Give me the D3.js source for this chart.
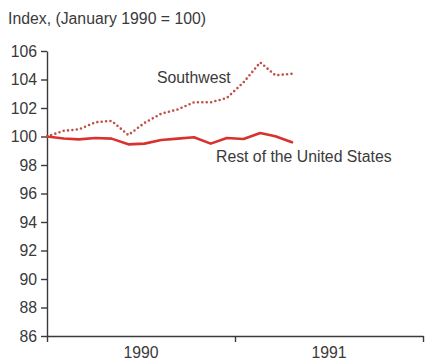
<!DOCTYPE html>
<html>
<head>
<meta charset="utf-8">
<script src="https://cdn.jsdelivr.net/npm/d3@7"></script>
<style>
  html, body { margin: 0; padding: 0; background: #fff; }
  svg { display: block; font-family: "Liberation Sans", Arial, sans-serif; }
</style>
</head>
<body>
<svg id="chart" width="426" height="360"></svg>
<script>
// Monthly employment index, January 1990 = 100
const months = ["1990-01","1990-02","1990-03","1990-04","1990-05","1990-06",
                "1990-07","1990-08","1990-09","1990-10","1990-11","1990-12",
                "1991-01","1991-02","1991-03","1991-04"];
const southwest = [100.0, 100.4, 100.5, 101.0, 101.1, 100.1, 100.95, 101.6,
                   101.9, 102.4, 102.4, 102.7, 103.8, 105.2, 104.3, 104.4];
const restOfUS  = [100.0, 99.86, 99.8, 99.9, 99.85, 99.45, 99.5, 99.75,
                   99.85, 99.95, 99.5, 99.9, 99.82, 100.25, 100.02, 99.6];
const yTicks = [86, 88, 90, 92, 94, 96, 98, 100, 102, 104, 106];
const years = ["1990", "1991"];

const parse = d3.timeParse("%Y-%m");
const dates = months.map(parse);

const svg = d3.select("#chart");
const ink = "#3a3a3a";
const fontSize = 15.8;

// scales
const y = d3.scaleLinear().domain([86, 106]).range([336, 51]);
const x = d3.scaleTime().domain([dates[0], dates[dates.length - 1]]).range([47, 292]);
const xYears = d3.scaleTime()
  .domain([parse("1990-01"), parse("1992-01")])
  .range([47, 423]);

// title
svg.append("text")
  .attr("x", 8).attr("y", 24)
  .attr("fill", ink).attr("font-size", fontSize)
  .text("Index, (January 1990 = 100)");

// y axis
const yAxis = svg.append("g")
  .attr("transform", "translate(47,0)")
  .call(d3.axisLeft(y).tickValues(yTicks).tickSize(6).tickSizeOuter(0).tickPadding(4));
yAxis.select(".domain").attr("stroke", ink).attr("stroke-width", 1.4);
yAxis.selectAll(".tick line").attr("stroke", ink).attr("stroke-width", 1.4);
yAxis.selectAll(".tick text")
  .attr("fill", ink).attr("font-size", fontSize)
  .attr("font-family", "Liberation Sans, Arial, sans-serif");

// x axis: year boundaries with labels centred in each year
const yearStarts = [parse("1990-01"), parse("1991-01"), parse("1992-01")];
const xAxis = svg.append("g")
  .attr("transform", "translate(0,336)")
  .call(d3.axisBottom(xYears).tickValues(yearStarts).tickSize(6).tickSizeOuter(0).tickFormat(""));
xAxis.select(".domain").attr("stroke", ink).attr("stroke-width", 1.4);
xAxis.selectAll(".tick line").attr("stroke", ink).attr("stroke-width", 1.4);

svg.append("g").selectAll("text")
  .data(years)
  .join("text")
  .attr("x", (d, i) => (xYears(yearStarts[i]) + xYears(yearStarts[i + 1])) / 2)
  .attr("y", 358)
  .attr("text-anchor", "middle")
  .attr("fill", ink).attr("font-size", fontSize)
  .text(d => d);

// lines
const line = vals => d3.line()
  .x((d, i) => x(dates[i]))
  .y(d => y(d))
  .curve(d3.curveLinear)(vals);

svg.append("path")
  .attr("d", line(restOfUS))
  .attr("fill", "none")
  .attr("stroke", "#d8322e")
  .attr("stroke-width", 2.6)
  .attr("stroke-linejoin", "round")
  .attr("stroke-linecap", "round");

svg.append("path")
  .attr("d", line(southwest))
  .attr("fill", "none")
  .attr("stroke", "#c0504a")
  .attr("stroke-width", 2.6)
  .attr("stroke-dasharray", "0 4.4")
  .attr("stroke-linecap", "round");

// series labels
svg.append("text")
  .attr("x", 157).attr("y", 83)
  .attr("fill", ink).attr("font-size", fontSize)
  .text("Southwest");

svg.append("text")
  .attr("x", 216).attr("y", 162)
  .attr("fill", ink).attr("font-size", fontSize)
  .text("Rest of the United States");
</script>
</body>
</html>
